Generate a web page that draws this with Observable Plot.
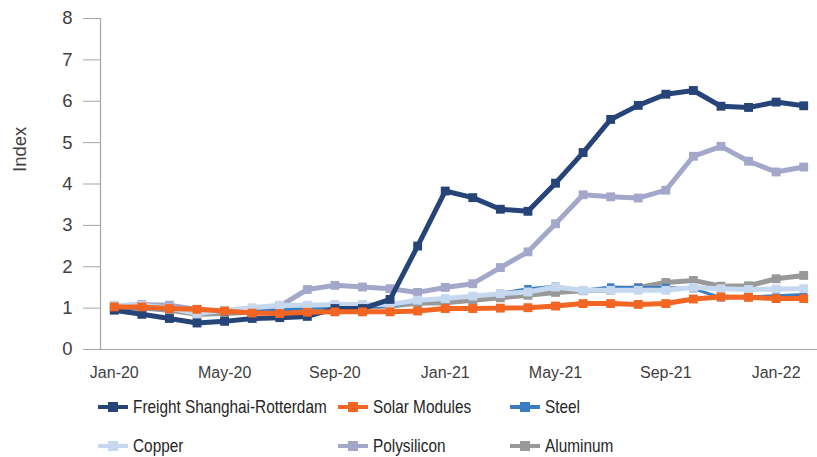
<!DOCTYPE html>
<html>
<head>
<meta charset="utf-8">
<script src="https://cdn.jsdelivr.net/npm/d3@7"></script>
<script src="https://cdn.jsdelivr.net/npm/@observablehq/plot@0.6"></script>
<style>
  body { margin: 0; background: #fff; }
  #wrap { width: 817px; position: relative; }
  #legend {
    display: grid;
    grid-template-columns: 240px 172px auto;
    grid-auto-rows: 39px;
    padding-left: 98px;
    padding-top: 2px;
    font-family: "Liberation Sans", Arial, sans-serif;
    font-size: 18.5px;
    color: #262626;
  }
  .item { display: flex; align-items: center; white-space: nowrap; }
  .item svg { margin-right: 5px; flex: none; }
  .item span { display: inline-block; transform: scaleX(0.83); transform-origin: left center; }
</style>
</head>
<body>
<div id="wrap">
  <div id="chart"></div>
  <div id="legend"></div>
</div>
<script>
const months = ["Jan-20","Feb-20","Mar-20","Apr-20","May-20","Jun-20","Jul-20","Aug-20","Sep-20","Oct-20","Nov-20","Dec-20",
                "Jan-21","Feb-21","Mar-21","Apr-21","May-21","Jun-21","Jul-21","Aug-21","Sep-21","Oct-21","Nov-21","Dec-21",
                "Jan-22","Feb-22"];
const freight     = [0.95,0.85,0.75,0.64,0.68,0.75,0.77,0.80,0.99,0.99,1.21,2.50,3.83,3.67,3.39,3.34,4.02,4.76,5.56,5.90,6.17,6.26,5.88,5.85,5.98,5.89];
const solar       = [1.03,1.03,0.99,0.97,0.93,0.88,0.87,0.90,0.91,0.91,0.91,0.93,0.99,0.99,1.00,1.01,1.05,1.11,1.11,1.09,1.11,1.22,1.27,1.26,1.23,1.23];
const steel       = [1.00,1.00,0.97,0.90,0.90,0.92,0.95,1.00,1.02,1.03,1.05,1.18,1.22,1.28,1.36,1.47,1.53,1.43,1.51,1.50,1.50,1.47,1.25,1.27,1.30,1.33];
const copper      = [1.07,1.07,1.00,0.87,0.95,1.01,1.07,1.07,1.09,1.09,1.09,1.19,1.23,1.29,1.35,1.39,1.51,1.43,1.43,1.43,1.43,1.50,1.47,1.45,1.46,1.47];
const polysilicon = [1.05,1.09,1.07,0.97,0.92,0.92,1.05,1.45,1.55,1.51,1.47,1.38,1.50,1.59,1.98,2.36,3.04,3.74,3.69,3.66,3.85,4.67,4.91,4.55,4.29,4.41];
const aluminum    = [1.00,1.00,0.95,0.85,0.87,0.90,0.95,0.98,1.00,1.02,1.05,1.12,1.13,1.19,1.25,1.31,1.38,1.42,1.43,1.50,1.62,1.67,1.53,1.54,1.71,1.79];
const seriesNames = ["Freight Shanghai-Rotterdam","Solar Modules","Steel","Copper","Polysilicon","Aluminum"];
const seriesValues = [freight, solar, steel, copper, polysilicon, aluminum];
const colors = ["#264478","#f26522","#3a7dc2","#c5d8f0","#a3a8cb","#999999"];
const widths = [5, 5, 3, 5, 5, 5];
const yTicks = [0,1,2,3,4,5,6,7,8];
const xTickIdx = [0,4,8,12,16,20,24];

const drawOrder = [5, 4, 2, 3, 0, 1];
const axisColor = "#a6a6a6";
const textColor = "#404040";

const marks = [];
for (const k of drawOrder) {
  const rows = seriesValues[k].map((v, i) => ({i, v, name: seriesNames[k]}));
  marks.push(Plot.line(rows, {x: "i", y: "v", stroke: colors[k], strokeWidth: widths[k], strokeLinejoin: "round"}));
  marks.push(Plot.dot(rows, {x: "i", y: "v", symbol: "square", fill: colors[k], r: k === 2 ? 4.2 : 5}));
}

const chart = Plot.plot({
  width: 817,
  height: 385,
  marginLeft: 100,
  marginRight: 0,
  marginTop: 18,
  marginBottom: 36,
  style: {fontFamily: "'Liberation Sans', Arial, sans-serif", background: "#fff"},
  x: {domain: [-0.5, months.length - 0.5]},
  y: {domain: [0, 8]},
  marks: [
    Plot.axisY(yTicks, {tickSize: 17, tickPadding: 11, fontSize: 18.5, stroke: axisColor, fill: textColor, label: null}),
    Plot.axisX(xTickIdx, {tickSize: 0, tickPadding: 17, fontSize: 16, fill: textColor, tickFormat: i => months[i], label: null}),
    Plot.ruleY([0], {stroke: axisColor, strokeWidth: 1.2}),
    Plot.ruleX([-0.5], {stroke: axisColor, strokeWidth: 1.2}),
    Plot.text(["Index"], {frameAnchor: "left", dx: -80, dy: -12, rotate: -90, fontSize: 18.5, fill: textColor}),
    ...marks
  ]
});
document.getElementById("chart").appendChild(chart);

const legend = document.getElementById("legend");
const legendOrder = [0, 1, 2, 3, 4, 5];
for (const k of legendOrder) {
  const item = document.createElement("div");
  item.className = "item";
  item.innerHTML = `<svg width="30" height="12"><line x1="0" x2="30" y1="6" y2="6" stroke="${colors[k]}" stroke-width="4"/><rect x="10" y="1" width="10" height="10" fill="${colors[k]}"/></svg><span>${seriesNames[k]}</span>`;
  legend.appendChild(item);
}
</script>
</body>
</html>
